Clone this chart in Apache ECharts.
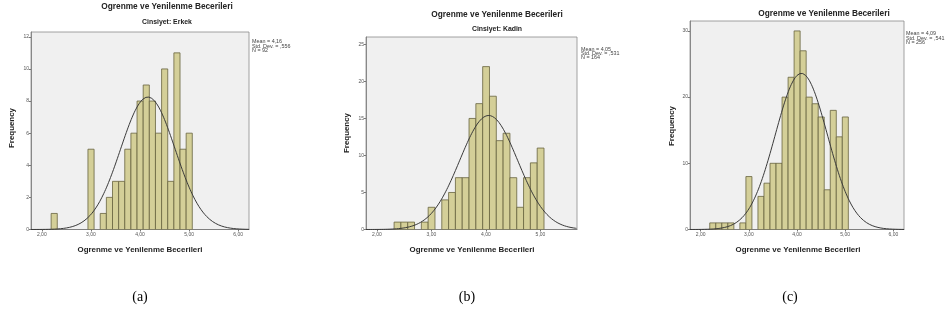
<!DOCTYPE html>
<html>
<head>
<meta charset="utf-8">
<title>Ogrenme ve Yenilenme Becerileri</title>
<script src="https://cdn.jsdelivr.net/npm/echarts@6.0.0/dist/echarts.min.js"></script>
<style>
  html, body { margin: 0; padding: 0; background: #fff; }
  #chart { width: 947px; height: 318px; }
</style>
</head>
<body>
<div id="chart"></div>
<script>
// histogram bins, same for all three panels
var binStart = 2.19;
var binWidth = 0.125;

// frequency per bin
var countsErkek = [1, 0, 0, 0, 0, 0, 5, 0, 1, 2, 3, 3, 5, 6, 8, 9, 8, 6, 10, 3, 11, 5, 6];
var countsKadin = [0, 1, 1, 1, 0, 1, 3, 0, 4, 5, 7, 7, 15, 17, 22, 18, 12, 13, 7, 3, 7, 9, 11];
var countsAll = [1, 1, 1, 1, 0, 1, 8, 0, 5, 7, 10, 10, 20, 23, 30, 27, 20, 19, 17, 6, 18, 14, 17];

// stats box of each panel
var means = [4.16, 4.05, 4.09];
var stdDevs = [0.556, 0.531, 0.541];
var ns = [92, 164, 256];

var mainTitle = 'Ogrenme ve Yenilenme Becerileri';
var subtitles = ['Cinsiyet: Erkek', 'Cinsiyet: Kadin', ''];
var captions = ['(a)', '(b)', '(c)'];

// tick labels
var xTicks = [[2, 3, 4, 5, 6], [2, 3, 4, 5], [2, 3, 4, 5, 6]];
var yTicks = [[0, 2, 4, 6, 8, 10, 12], [0, 5, 10, 15, 20, 25], [0, 10, 20, 30]];

var allCounts = [countsErkek, countsKadin, countsAll];

// where each panel sits
var panels = [
  { left: 31, top: 32, width: 218, height: 197.5, xMin: 1.78, xMax: 6.22, yMax: 12.3,
    titleX: 167, titleY: 7, subY: 22.5, statX: 252, statY: 39.5,
    xTitleX: 140, yTitleX: 12, yTitleY: 128, capX: 140 },
  { left: 366, top: 37, width: 211, height: 192.5, xMin: 1.80, xMax: 5.67, yMax: 26,
    titleX: 497, titleY: 15, subY: 29.3, statX: 581, statY: 47,
    xTitleX: 472, yTitleX: 347, yTitleY: 133, capX: 467 },
  { left: 690, top: 21, width: 214, height: 208.5, xMin: 1.78, xMax: 6.22, yMax: 31.5,
    titleX: 824, titleY: 14, subY: 0, statX: 906, statY: 31.5,
    xTitleX: 798, yTitleX: 672, yTitleY: 126, capX: 790 }
];

var sans = '"Liberation Sans", Arial, sans-serif';

function comma(v, d) {
  return v.toFixed(d).replace('.', ',');
}

// bars drawn as rects between bin edges
function renderBar(params, api) {
  var p0 = api.coord([api.value(0), api.value(2)]);
  var p1 = api.coord([api.value(1), 0]);
  return {
    type: 'rect',
    shape: { x: p0[0], y: p0[1], width: p1[0] - p0[0], height: p1[1] - p0[1] },
    style: { fill: '#d4cf98', stroke: '#67633f', lineWidth: 0.8 }
  };
}

var grids = [], xAxes = [], yAxes = [], series = [], graphics = [];

panels.forEach(function (p, i) {
  grids.push({
    left: p.left, top: p.top, width: p.width, height: p.height,
    show: true, backgroundColor: '#f0f0f0', borderColor: '#8a8a8a', borderWidth: 0.8,
    containLabel: false, outerBoundsMode: 'none'
  });
  xAxes.push({
    gridIndex: i, type: 'value', min: p.xMin, max: p.xMax,
    axisLine: { show: true, lineStyle: { color: '#777', width: 0.8 } },
    axisTick: { show: true, customValues: xTicks[i], length: 2, lineStyle: { color: '#777' } },
    axisLabel: {
      customValues: xTicks[i], fontSize: 5, color: '#555', margin: 3, fontFamily: sans,
      formatter: function (v) { return comma(v, 2); }
    },
    splitLine: { show: false }
  });
  yAxes.push({
    gridIndex: i, type: 'value', min: 0, max: p.yMax,
    axisLine: { show: true, lineStyle: { color: '#777', width: 0.8 } },
    axisTick: { show: true, customValues: yTicks[i], length: 2, lineStyle: { color: '#777' } },
    axisLabel: { customValues: yTicks[i], fontSize: 5, color: '#555', margin: 2, fontFamily: sans },
    splitLine: { show: false }
  });

  // histogram
  var bars = [];
  allCounts[i].forEach(function (c, k) {
    if (c > 0) bars.push([binStart + k * binWidth, binStart + (k + 1) * binWidth, c]);
  });
  series.push({
    type: 'custom', xAxisIndex: i, yAxisIndex: i,
    renderItem: renderBar, data: bars,
    encode: { x: [0, 1], y: 2 }, clip: true
  });

  // fitted normal curve from the mean / sd / N in the stats box
  var curve = [];
  var scale = ns[i] * binWidth / (stdDevs[i] * Math.sqrt(2 * Math.PI));
  for (var x = p.xMin; x <= p.xMax + 1e-9; x += 0.02) {
    var z = (x - means[i]) / stdDevs[i];
    curve.push([x, scale * Math.exp(-0.5 * z * z)]);
  }
  series.push({
    type: 'line', xAxisIndex: i, yAxisIndex: i, data: curve,
    showSymbol: false, smooth: false, z: 5,
    lineStyle: { color: '#3a3a3a', width: 1 }
  });

  // texts
  graphics.push({
    type: 'text', x: p.titleX, y: p.titleY,
    style: { text: mainTitle, fontSize: 8.3, fontWeight: 'bold', fontFamily: sans,
             fill: '#222', align: 'center', verticalAlign: 'middle' }
  });
  if (subtitles[i]) {
    graphics.push({
      type: 'text', x: p.titleX, y: p.subY,
      style: { text: subtitles[i], fontSize: 6.9, fontWeight: 'bold', fontFamily: sans,
               fill: '#222', align: 'center', verticalAlign: 'middle' }
    });
  }
  graphics.push({
    type: 'text', x: p.statX, y: p.statY,
    style: {
      text: 'Mean = ' + comma(means[i], 2) + '\nStd. Dev. = ' + comma(stdDevs[i], 3).replace(/^0/, '') +
            '\nN = ' + ns[i],
      fontSize: 5.4, lineHeight: 4.4, fontFamily: sans, fill: '#444', align: 'left', verticalAlign: 'top'
    }
  });
  graphics.push({
    type: 'text', x: p.xTitleX, y: 250,
    style: { text: mainTitle, fontSize: 7.9, fontWeight: 'bold', fontFamily: sans,
             fill: '#222', align: 'center', verticalAlign: 'middle' }
  });
  graphics.push({
    type: 'text', x: p.yTitleX, y: p.yTitleY, rotation: Math.PI / 2,
    style: { text: 'Frequency', fontSize: 7.9, fontWeight: 'bold', fontFamily: sans,
             fill: '#222', align: 'center', verticalAlign: 'middle' }
  });
  graphics.push({
    type: 'text', x: p.capX, y: 297,
    style: { text: captions[i], fontSize: 14, fontFamily: '"Liberation Serif", "Times New Roman", serif',
             fill: '#000', align: 'center', verticalAlign: 'middle' }
  });
});

var chart = echarts.init(document.getElementById('chart'), null, { renderer: 'canvas' });
chart.setOption({
  animation: false,
  grid: grids,
  xAxis: xAxes,
  yAxis: yAxes,
  series: series,
  graphic: graphics
});
</script>
</body>
</html>
